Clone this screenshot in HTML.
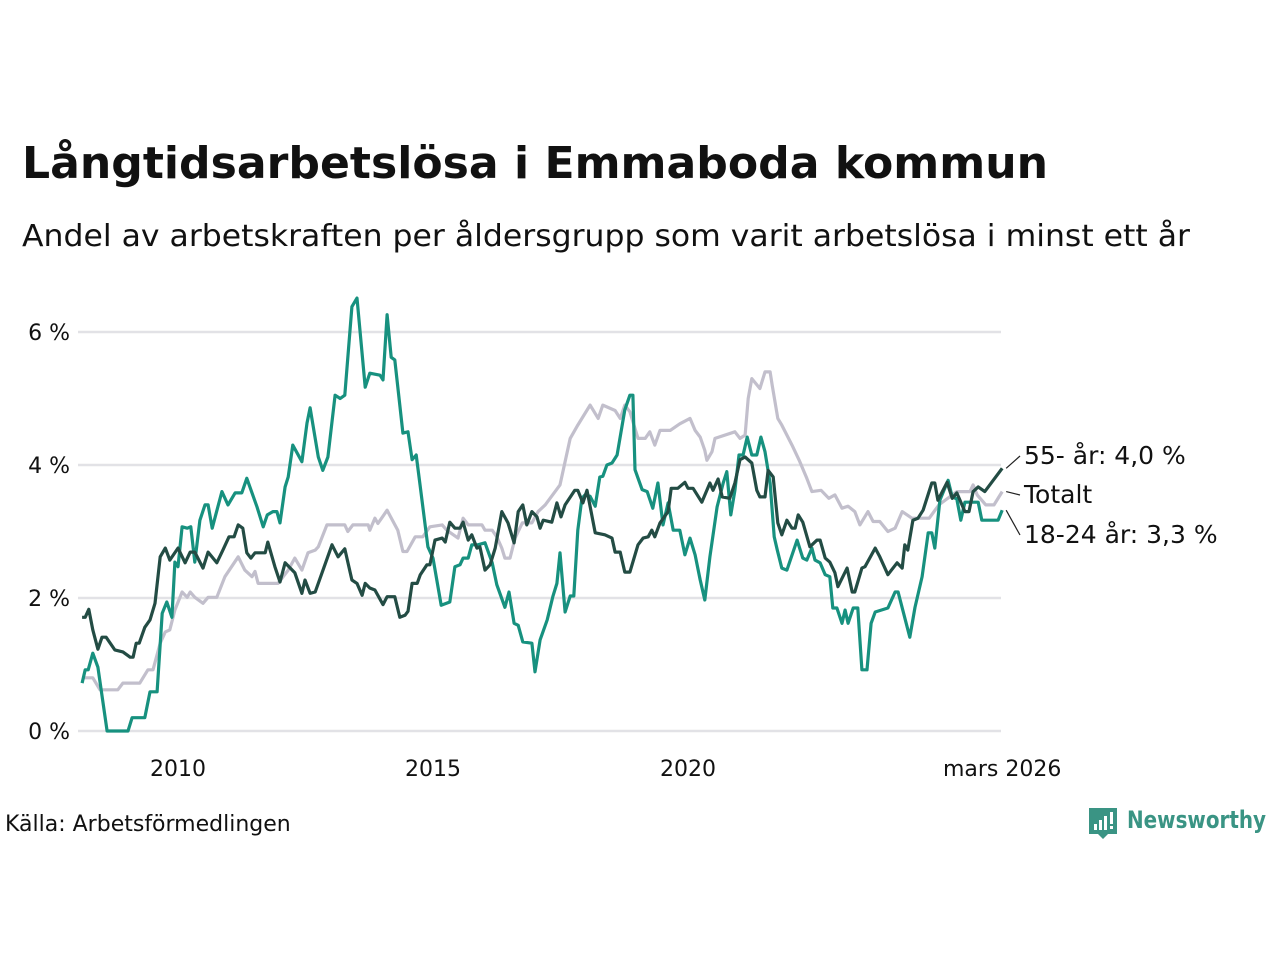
<!DOCTYPE html>
<html><head><meta charset="utf-8">
<style>
html,body{margin:0;padding:0;background:#fff;}
svg{display:block;font-family:"DejaVu Sans","Liberation Sans",sans-serif;}
</style></head>
<body>
<svg id="chart" width="1280" height="960" viewBox="0 0 1280 960" xmlns="http://www.w3.org/2000/svg">
<rect width="1280" height="960" fill="#fff"/>
<text x="22" y="178" font-size="44" font-weight="bold" fill="#111" textLength="1026" lengthAdjust="spacingAndGlyphs">Långtidsarbetslösa i Emmaboda kommun</text>
<text x="22" y="246" font-size="30" fill="#111" textLength="1168" lengthAdjust="spacingAndGlyphs">Andel av arbetskraften per åldersgrupp som varit arbetslösa i minst ett år</text>
<g id="grid"></g>
<g id="yticks"></g>
<g id="xticks"></g>
<g id="lines"></g>
<g id="labels"></g>
<text x="5" y="831" font-size="22" fill="#111">Källa: Arbetsförmedlingen</text>
<g>
<path d="M1089 808 h28 v26 h-9 l-5 5 l-5 -5 h-9 z" fill="#3a9484"/>
<rect x="1094" y="824" width="3" height="6" fill="#fff"/><rect x="1099" y="820" width="3" height="10" fill="#fff"/><rect x="1104" y="816" width="3" height="14" fill="#fff"/><rect x="1110" y="812" width="3" height="12" fill="#fff"/><rect x="1110" y="826" width="3" height="3" fill="#fff"/>
<text x="1127" y="828" font-size="24" font-weight="bold" fill="#3a9484" textLength="139" lengthAdjust="spacingAndGlyphs">Newsworthy</text>
</g>
</svg>
<script>
const yTicks=[0,2,4,6];
const yTickLabels=["0 %","2 %","4 %","6 %"];
const xTicks=[2010,2015,2020,2026.16];
const xTickLabels=["2010","2015","2020","mars 2026"];

const youthYears=[2008.12,2008.18,2008.24,2008.33,2008.43,2008.61,2009.02,2009.10,2009.35,2009.45,2009.59,2009.69,2009.78,2009.88,2009.94,2010.0,2010.08,2010.18,2010.25,2010.33,2010.43,2010.53,2010.59,2010.67,2010.86,2010.98,2011.12,2011.25,2011.35,2011.55,2011.67,2011.75,2011.86,2011.94,2012.0,2012.1,2012.16,2012.25,2012.43,2012.53,2012.59,2012.75,2012.84,2012.94,2013.08,2013.18,2013.27,2013.41,2013.51,2013.67,2013.76,2013.96,2014.02,2014.1,2014.18,2014.25,2014.41,2014.51,2014.59,2014.67,2014.75,2014.9,2015.0,2015.16,2015.33,2015.43,2015.53,2015.59,2015.69,2015.76,2015.88,2016.02,2016.16,2016.25,2016.41,2016.49,2016.59,2016.67,2016.76,2016.94,2017.0,2017.1,2017.24,2017.35,2017.43,2017.49,2017.59,2017.69,2017.76,2017.84,2017.92,2017.98,2018.08,2018.18,2018.27,2018.33,2018.41,2018.51,2018.61,2018.76,2018.86,2018.92,2018.96,2019.1,2019.2,2019.31,2019.41,2019.51,2019.61,2019.71,2019.84,2019.94,2020.04,2020.14,2020.24,2020.33,2020.43,2020.57,2020.69,2020.76,2020.84,2020.92,2021.0,2021.08,2021.16,2021.25,2021.35,2021.43,2021.51,2021.61,2021.69,2021.75,2021.84,2021.94,2022.14,2022.25,2022.33,2022.43,2022.49,2022.59,2022.69,2022.78,2022.84,2022.92,2023.02,2023.08,2023.14,2023.24,2023.33,2023.41,2023.51,2023.59,2023.67,2023.92,2024.06,2024.12,2024.35,2024.45,2024.59,2024.71,2024.78,2024.84,2024.94,2025.1,2025.18,2025.27,2025.35,2025.43,2025.69,2025.76,2026.08,2026.16];
const youthValues=[0.72,0.92,0.92,1.17,0.96,0,0,0.2,0.2,0.59,0.59,1.77,1.94,1.71,2.54,2.47,3.07,3.05,3.07,2.54,3.17,3.4,3.4,3.05,3.6,3.4,3.58,3.58,3.8,3.37,3.07,3.25,3.3,3.3,3.13,3.67,3.82,4.3,4.05,4.63,4.86,4.12,3.92,4.12,5.05,5.0,5.05,6.38,6.51,5.17,5.38,5.35,5.28,6.26,5.62,5.58,4.48,4.5,4.08,4.15,3.67,2.77,2.6,1.89,1.94,2.47,2.5,2.6,2.6,2.8,2.8,2.83,2.53,2.2,1.86,2.09,1.62,1.59,1.34,1.32,0.89,1.37,1.67,2.02,2.22,2.68,1.79,2.03,2.03,3.02,3.5,3.55,3.53,3.38,3.82,3.83,4.0,4.03,4.15,4.83,5.05,5.05,3.93,3.63,3.6,3.35,3.73,3.1,3.43,3.02,3.02,2.65,2.9,2.65,2.27,1.97,2.62,3.37,3.73,3.9,3.25,3.62,4.15,4.15,4.42,4.15,4.15,4.42,4.2,3.73,2.92,2.72,2.45,2.42,2.87,2.6,2.57,2.75,2.57,2.53,2.35,2.32,1.85,1.85,1.62,1.82,1.62,1.85,1.85,0.92,0.92,1.62,1.79,1.85,2.09,2.09,1.41,1.86,2.32,2.98,2.98,2.75,3.47,3.77,3.52,3.49,3.17,3.44,3.44,3.17,3.17,3.32];

const totalYears=[2008.12,2008.33,2008.47,2008.82,2008.92,2009.25,2009.41,2009.51,2009.65,2009.75,2009.84,2009.94,2010.08,2010.18,2010.24,2010.33,2010.49,2010.59,2010.76,2010.92,2011.18,2011.31,2011.45,2011.51,2011.57,2011.96,2012.16,2012.29,2012.43,2012.55,2012.69,2012.75,2012.92,2013.27,2013.33,2013.43,2013.73,2013.76,2013.86,2013.92,2014.1,2014.31,2014.41,2014.49,2014.65,2014.8,2014.94,2015.18,2015.27,2015.49,2015.59,2015.69,2015.96,2016.02,2016.16,2016.25,2016.35,2016.41,2016.51,2016.61,2016.75,2016.94,2017.06,2017.2,2017.49,2017.69,2017.84,2018.08,2018.24,2018.33,2018.57,2018.67,2018.76,2018.86,2019.02,2019.16,2019.25,2019.35,2019.45,2019.65,2019.84,2020.04,2020.14,2020.24,2020.33,2020.37,2020.47,2020.53,2020.92,2021.02,2021.12,2021.18,2021.25,2021.41,2021.51,2021.61,2021.65,2021.76,2021.84,2022.04,2022.18,2022.33,2022.43,2022.61,2022.76,2022.88,2023.02,2023.14,2023.27,2023.37,2023.53,2023.63,2023.76,2023.92,2024.06,2024.2,2024.39,2024.73,2024.92,2025.27,2025.53,2025.59,2025.67,2025.84,2026.0,2026.16];
const totalValues=[0.8,0.8,0.62,0.62,0.72,0.72,0.92,0.92,1.32,1.49,1.52,1.82,2.09,2.01,2.09,2.01,1.92,2.01,2.01,2.32,2.62,2.42,2.32,2.4,2.22,2.22,2.42,2.6,2.42,2.68,2.72,2.77,3.1,3.1,3.0,3.1,3.1,3.02,3.2,3.12,3.32,3.02,2.7,2.7,2.92,2.92,3.07,3.1,3.02,2.9,3.2,3.1,3.1,3.02,3.02,2.92,2.75,2.6,2.6,2.9,3.13,3.13,3.3,3.4,3.7,4.4,4.6,4.9,4.7,4.9,4.82,4.7,4.9,4.8,4.4,4.4,4.5,4.3,4.52,4.52,4.62,4.7,4.52,4.42,4.22,4.07,4.2,4.4,4.5,4.4,4.45,5.0,5.3,5.15,5.4,5.4,5.2,4.7,4.6,4.3,4.07,3.8,3.6,3.62,3.5,3.55,3.35,3.38,3.3,3.1,3.3,3.15,3.15,3.0,3.05,3.3,3.2,3.2,3.4,3.6,3.6,3.7,3.55,3.4,3.4,3.6];

const seniorYears=[2008.12,2008.18,2008.25,2008.33,2008.43,2008.51,2008.59,2008.76,2008.92,2009.06,2009.12,2009.18,2009.24,2009.35,2009.45,2009.55,2009.65,2009.75,2009.84,2010.0,2010.14,2010.24,2010.33,2010.49,2010.59,2010.76,2010.88,2011.0,2011.1,2011.18,2011.27,2011.35,2011.43,2011.51,2011.71,2011.76,2011.9,2012.0,2012.1,2012.29,2012.43,2012.49,2012.59,2012.69,2013.02,2013.14,2013.27,2013.41,2013.51,2013.61,2013.67,2013.76,2013.86,2014.02,2014.1,2014.25,2014.35,2014.45,2014.51,2014.59,2014.69,2014.75,2014.88,2014.94,2015.04,2015.18,2015.24,2015.33,2015.43,2015.53,2015.59,2015.69,2015.76,2015.86,2015.92,2016.02,2016.12,2016.22,2016.35,2016.47,2016.59,2016.67,2016.76,2016.84,2016.94,2017.04,2017.1,2017.16,2017.33,2017.43,2017.51,2017.59,2017.78,2017.84,2017.94,2018.02,2018.18,2018.37,2018.51,2018.57,2018.67,2018.76,2018.86,2019.02,2019.12,2019.22,2019.29,2019.35,2019.45,2019.61,2019.67,2019.8,2019.94,2020.0,2020.1,2020.27,2020.43,2020.49,2020.59,2020.67,2020.82,2020.92,2021.02,2021.12,2021.25,2021.35,2021.41,2021.51,2021.57,2021.67,2021.76,2021.84,2021.94,2022.04,2022.1,2022.16,2022.25,2022.39,2022.53,2022.59,2022.69,2022.78,2022.88,2022.94,2023.12,2023.22,2023.27,2023.41,2023.47,2023.67,2023.76,2023.92,2024.1,2024.2,2024.25,2024.31,2024.41,2024.51,2024.61,2024.78,2024.84,2024.9,2025.08,2025.18,2025.27,2025.43,2025.51,2025.59,2025.69,2025.82,2026.16];
const seniorValues=[1.71,1.71,1.83,1.52,1.23,1.41,1.41,1.22,1.19,1.11,1.11,1.32,1.32,1.56,1.67,1.92,2.62,2.75,2.57,2.75,2.53,2.69,2.69,2.45,2.69,2.53,2.72,2.92,2.92,3.1,3.05,2.68,2.6,2.68,2.68,2.84,2.47,2.24,2.53,2.38,2.07,2.27,2.07,2.09,2.8,2.62,2.74,2.27,2.22,2.04,2.22,2.15,2.12,1.9,2.02,2.02,1.71,1.74,1.8,2.22,2.22,2.35,2.5,2.5,2.87,2.9,2.84,3.14,3.05,3.05,3.14,2.87,2.95,2.75,2.77,2.42,2.5,2.75,3.3,3.13,2.83,3.3,3.4,3.1,3.3,3.22,3.05,3.17,3.14,3.43,3.22,3.4,3.62,3.62,3.43,3.62,2.98,2.95,2.9,2.69,2.69,2.39,2.39,2.8,2.9,2.92,3.02,2.92,3.13,3.3,3.65,3.65,3.74,3.65,3.65,3.44,3.73,3.62,3.79,3.52,3.5,3.73,4.08,4.12,4.03,3.62,3.52,3.52,3.92,3.82,3.13,2.95,3.17,3.05,3.05,3.25,3.14,2.77,2.87,2.87,2.6,2.54,2.38,2.17,2.45,2.09,2.09,2.45,2.47,2.75,2.62,2.35,2.53,2.45,2.8,2.72,3.17,3.2,3.32,3.73,3.73,3.47,3.74,3.5,3.58,3.3,3.3,3.6,3.67,3.6,3.95];

const NS="http://www.w3.org/2000/svg";
const X0=78,X1=1001;
function xs(yr){return 178+(yr-2010)*51;}
function ys(v){return 731-v*66.5;}
function mk(tag,attrs,parent){const e=document.createElementNS(NS,tag);for(const k in attrs)e.setAttribute(k,attrs[k]);parent.appendChild(e);return e;}

const grid=document.getElementById('grid'),yt=document.getElementById('yticks'),xt=document.getElementById('xticks'),lines=document.getElementById('lines'),labs=document.getElementById('labels');
yTicks.forEach((v,i)=>{
  const l=mk('line',{x1:X0,x2:X1,y1:ys(v),y2:ys(v),stroke:'#e2e2e6','stroke-width':2.5},grid);
  
  
  const t=mk('text',{x:70,y:ys(v)+8,'text-anchor':'end','font-size':22,fill:'#111'},yt);
  t.textContent=yTickLabels[i];
  
  
});
xTicks.forEach((yr,i)=>{
  const t=mk('text',{x:xs(yr),y:776,'text-anchor':'middle','font-size':22,fill:'#111'},xt);
  t.textContent=xTickLabels[i];
  
  
});
function drawLine(years,vals,color,name){
  const d=years.map((y,i)=>(i?'L':'M')+xs(y).toFixed(1)+' '+ys(vals[i]).toFixed(1)).join(' ');
  const p=mk('path',{d:d,fill:'none',stroke:color,'stroke-width':3.2,'stroke-linejoin':'round'},lines);
  
  
}
drawLine(totalYears,totalValues,'#c2bfcc','line-totalt');
drawLine(youthYears,youthValues,'#17917f','line-18-24');
drawLine(seniorYears,seniorValues,'#234c44','line-55');

function endLabel(years,vals,text,ty,name){
  const ex=xs(years[years.length-1]),ey=ys(vals[vals.length-1]);
  const ln=mk('line',{x1:ex+4,y1:ey,x2:1020,y2:ty-8,stroke:'#222','stroke-width':1.2},labs);
  
  
  const t=mk('text',{x:1024,y:ty,'font-size':25,fill:'#111'},labs);
  t.textContent=text;
  
  
}
endLabel(seniorYears,seniorValues,'55- år: 4,0 %',464,'label-55');
endLabel(totalYears,totalValues,'Totalt',503,'label-totalt');
endLabel(youthYears,youthValues,'18-24 år: 3,3 %',543,'label-18-24');
</script>
</body></html>
